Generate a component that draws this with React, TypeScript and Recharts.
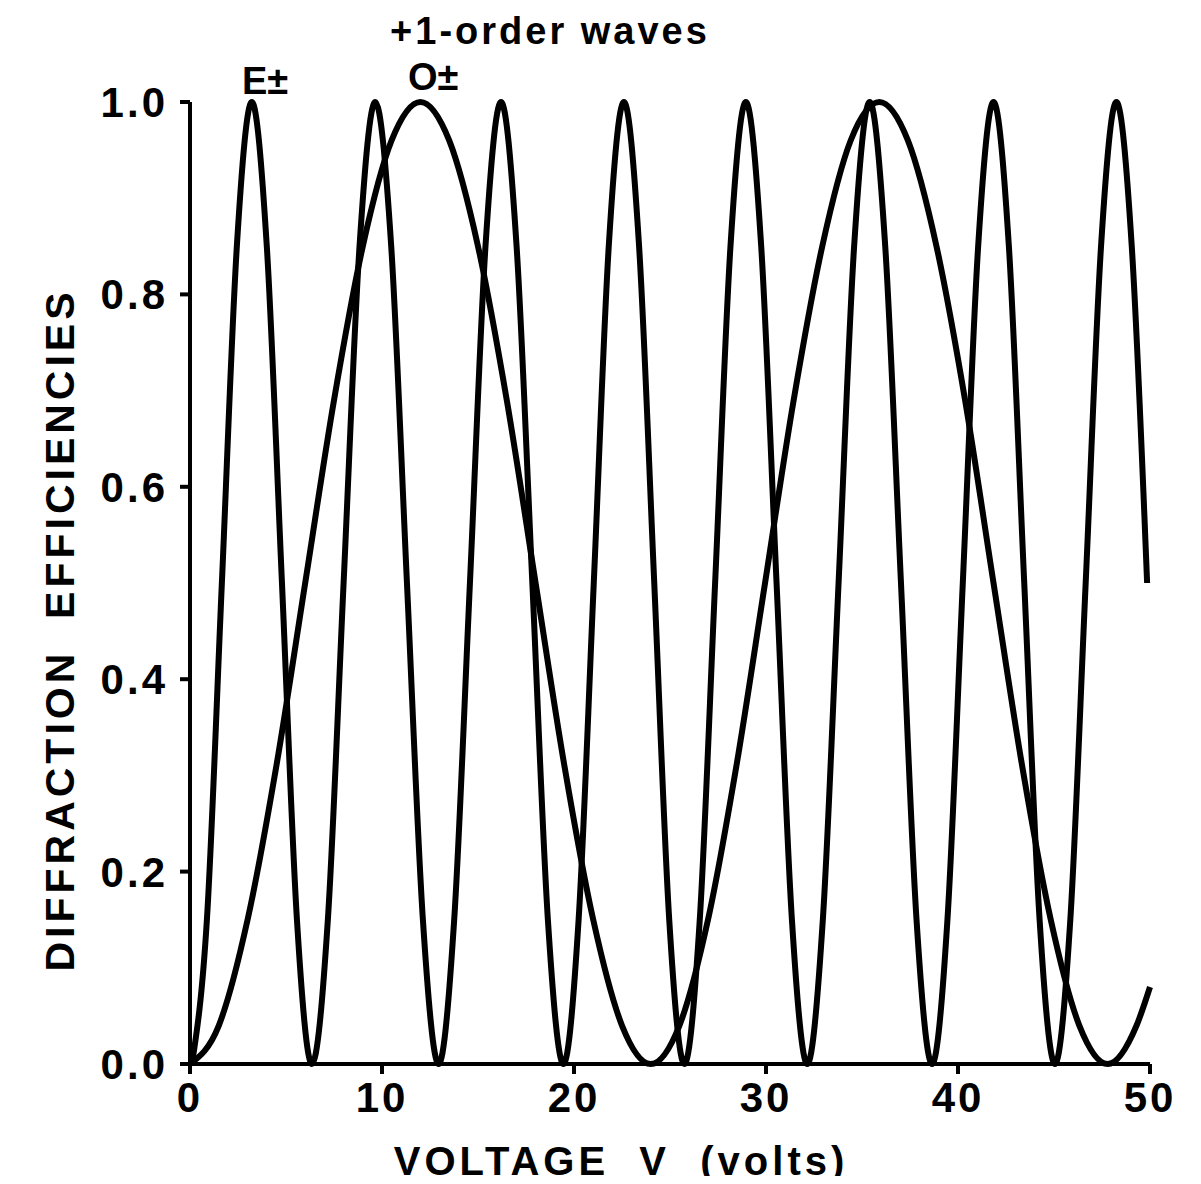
import { LineChart, Line, XAxis, YAxis } from "recharts";

// E± wave (fast oscillation)
const eVolts = [
  0.1, 0.88, 1.66, 2.44, 3.22, 4.0, 4.79, 5.57,
  6.35, 7.18, 8.0, 8.83, 9.65, 10.48, 11.3, 12.13,
  12.95, 13.76, 14.58, 15.39, 16.2, 17.01, 17.83, 18.64,
  19.45, 20.24, 21.03, 21.81, 22.6, 23.39, 24.18, 24.96,
  25.75, 26.55, 27.35, 28.15, 28.95, 29.75, 30.55, 31.35,
  32.15, 32.96, 33.78, 34.59, 35.4, 36.21, 37.03, 37.84,
  38.65, 39.45, 40.25, 41.05, 41.85, 42.65, 43.45, 44.25,
  45.05, 45.85, 46.65, 47.45, 48.25, 49.05, 49.85,
];
const eValues = [
  0, 0.15, 0.5, 0.85, 1.0, 0.85, 0.5, 0.15,
  0, 0.15, 0.5, 0.85, 1.0, 0.85, 0.5, 0.15,
  0, 0.15, 0.5, 0.85, 1.0, 0.85, 0.5, 0.15,
  0, 0.15, 0.5, 0.85, 1.0, 0.85, 0.5, 0.15,
  0, 0.15, 0.5, 0.85, 1.0, 0.85, 0.5, 0.15,
  0, 0.15, 0.5, 0.85, 1.0, 0.85, 0.5, 0.15,
  0, 0.15, 0.5, 0.85, 1.0, 0.85, 0.5, 0.15,
  0, 0.15, 0.5, 0.85, 1.0, 0.85, 0.5,
];

// O± wave (slow oscillation)
const oVolts = [
  0, 1.5, 3, 4.5, 6, 7.5, 9, 10.5, 12, 13.5, 15, 16.5, 18, 19.5, 21, 22.5, 24,
  25.49, 26.98, 28.46, 29.95, 31.44, 32.93, 34.41, 35.9, 37.39, 38.88, 40.37,
  41.85, 43.34, 44.83, 46.32, 47.8, 49.3, 50,
];
const oValues = [
  0, 0.04, 0.15, 0.31, 0.5, 0.69, 0.85, 0.96, 1.0, 0.96, 0.85, 0.69, 0.5, 0.31, 0.15, 0.04, 0,
  0.04, 0.15, 0.31, 0.5, 0.69, 0.85, 0.96, 1.0, 0.96, 0.85, 0.69,
  0.5, 0.31, 0.15, 0.04, 0, 0.04, 0.08,
];

const xTicks = [0, 10, 20, 30, 40, 50];
const yTicks = [0, 0.2, 0.4, 0.6, 0.8, 1.0];

const eData = eVolts.map((v, i) => ({ v, eff: eValues[i] }));
const oData = oVolts.map((v, i) => ({ v, eff: oValues[i] }));

const FONT = '"Liberation Sans", Arial, sans-serif';

const tickStyle = {
  fill: "#000",
  fontSize: 42,
  fontWeight: 700,
  fontFamily: FONT,
  letterSpacing: 3,
};

const textStyle: React.CSSProperties = {
  position: "absolute",
  fontFamily: FONT,
  fontWeight: 700,
  color: "#000",
  lineHeight: 1,
  whiteSpace: "pre",
};

export default function App() {
  return (
    <div style={{ position: "relative", width: 1185, height: 1168, background: "#fff" }}>
      <LineChart
        width={1185}
        height={1168}
        margin={{ top: 94, right: 43, left: 0, bottom: 0 }}
      >
        <XAxis
          type="number"
          dataKey="v"
          domain={[0, 50]}
          ticks={xTicks}
          allowDuplicatedCategory={false}
          height={112}
          tick={tickStyle}
          tickSize={10}
          tickMargin={8}
          axisLine={{ stroke: "#000", strokeWidth: 4 }}
          tickLine={{ stroke: "#000", strokeWidth: 4 }}
        />
        <YAxis
          type="number"
          dataKey="eff"
          domain={[0, 1]}
          ticks={yTicks}
          width={182}
          tick={tickStyle}
          tickSize={10}
          tickMargin={12}
          tickFormatter={(t: number) => t.toFixed(1)}
          axisLine={{ stroke: "#000", strokeWidth: 4 }}
          tickLine={{ stroke: "#000", strokeWidth: 4 }}
        />
        <Line
          data={eData}
          dataKey="eff"
          type="monotone"
          stroke="#000"
          strokeWidth={6}
          dot={false}
          isAnimationActive={false}
        />
        <Line
          data={oData}
          dataKey="eff"
          type="monotone"
          stroke="#000"
          strokeWidth={6}
          dot={false}
          isAnimationActive={false}
        />
      </LineChart>

      <div style={{ ...textStyle, left: 542, top: 4, fontSize: 38, letterSpacing: 3, transform: "translateX(-50%)" }}>
        +1-order waves
      </div>
      <div style={{ ...textStyle, left: 234, top: 54, fontSize: 38 }}>E±</div>
      <div style={{ ...textStyle, left: 400, top: 50, fontSize: 38 }}>O±</div>
      <div
        style={{
          ...textStyle,
          left: 52,
          top: 622,
          fontSize: 41,
          letterSpacing: 4,
          transform: "translate(-50%, -50%) rotate(-90deg)",
        }}
      >
        {"DIFFRACTION  EFFICIENCIES"}
      </div>
      <div
        style={{
          ...textStyle,
          left: 613,
          top: 1133,
          fontSize: 40,
          letterSpacing: 4,
          transform: "translateX(-50%)",
        }}
      >
        {"VOLTAGE  V  (volts)"}
      </div>
    </div>
  );
}
